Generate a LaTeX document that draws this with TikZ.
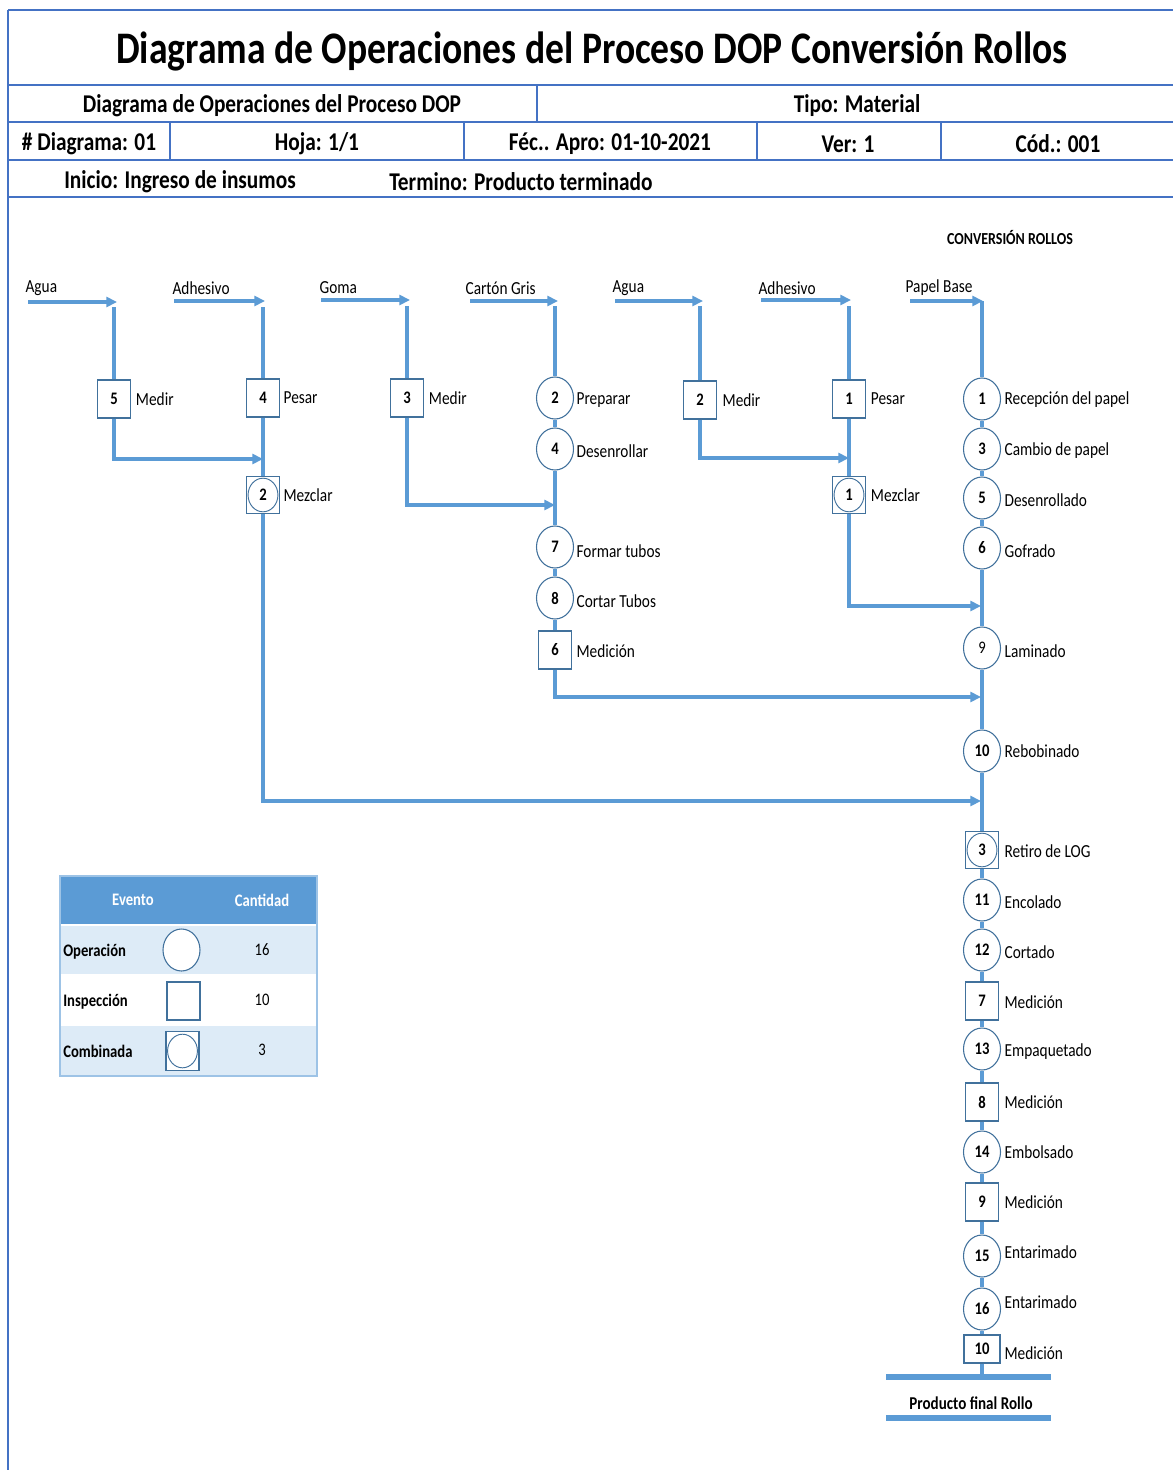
\documentclass[tikz,border=0pt]{standalone}
\usepackage{fontspec}
\setmainfont{Carlito}
\usetikzlibrary{shapes.geometric, arrows.meta, positioning}
\definecolor{hdrblue}{HTML}{4472C4}
\definecolor{flowblue}{HTML}{5B9BD5}
\definecolor{edgeblue}{HTML}{41719C}
\definecolor{rowfill}{HTML}{DDEBF7}
\definecolor{tabline}{HTML}{9DC3E6}
% text is set slightly taller than wide
\newcommand{\vs}[1]{\scalebox{1}[1.2]{#1}}

\begin{document}
\begin{tikzpicture}[x=0.75pt, y=-0.75pt,
  hline/.style={draw=hdrblue, line width=2.2pt},
  flow/.style={draw=flowblue, line width=2.6pt},
  flowarrow/.style={flow, -{Triangle[length=8pt,width=7.5pt]}},
  numfont/.style={font=\bfseries\fontsize{11}{13}\selectfont},
  opnode/.style={ellipse, draw=edgeblue, line width=0.8pt, fill=white,
    minimum width=27.75pt, minimum height=31.5pt, inner sep=0pt, numfont},
  insnode/.style={rectangle, draw=edgeblue, line width=0.8pt, fill=white,
    minimum width=24.75pt, minimum height=28.5pt, inner sep=0pt, numfont},
  combnode/.style={insnode, minimum height=27.75pt,
    path picture={\draw[edgeblue, line width=0.7pt]
      (path picture bounding box.center) ellipse (11.2pt and 12.6pt);}},
  lbl/.style={font=\fontsize{11.5}{13}\selectfont, inner sep=1pt, anchor=west},
  hdr/.style={font=\bfseries\fontsize{16}{18}\selectfont, inner sep=0pt, yshift=-1.5pt},
  tabhead/.style={font=\bfseries\fontsize{11}{13}\selectfont, text=white, inner sep=0pt},
  tabtext/.style={font=\bfseries\fontsize{11}{13}\selectfont, inner sep=0pt, anchor=west, yshift=-1pt},
  tabnum/.style={font=\fontsize{11}{13}\selectfont, inner sep=0pt},
]
\useasboundingbox (0,0) rectangle (1173,1470);
\fill[white] (0,0) rectangle (1173,1470);

% ---------- header block ----------
\draw[hline] (8,10) -- (1173,10);
\draw[hline] (8,85) -- (1173,85);
\draw[hline] (8,122) -- (1173,122);
\draw[hline] (8,160) -- (1173,160);
\draw[hline] (8,197) -- (1173,197);
\draw[hline] (537,85) -- (537,122);
\foreach \xx in {170,464,757,941} \draw[hline] (\xx,122) -- (\xx,160);
\draw[draw=hdrblue, line width=1.5pt] (8,10) -- (8,1470);

\node[font=\bfseries\fontsize{28.2}{32}\selectfont, inner sep=0pt, yshift=-2.5pt] (title) at (592,48)
  {\vs{Diagrama de Operaciones del Proceso DOP Conversión Rollos}};
\node[hdr] (hdrA) at (272,104) {\vs{Diagrama de Operaciones del Proceso DOP}};
\node[hdr] (hdrB) at (857,104) {\vs{Tipo: Material}};
\node[hdr] (hdrC) at (89,142) {\vs{\# Diagrama: 01}};
\node[hdr] (hdrD) at (317,142) {\vs{Hoja: 1/1}};
\node[hdr] (hdrE) at (610,142) {\vs{Féc.. Apro: 01-10-2021}};
\node[hdr] (hdrF) at (848,142) {\vs{Ver: 1}};
\node[hdr] (hdrG) at (1058,142) {\vs{Cód.: 001}};
\node[hdr, anchor=west] (hdrH) at (64,180) {\vs{Inicio: Ingreso de insumos}};
\node[hdr, anchor=west] (hdrI) at (389,180) {\vs{Termino: Producto terminado}};

\node[font=\bfseries\fontsize{10.5}{12}\selectfont, inner sep=0pt] (sect) at (1010,238)
  {\vs{CONVERSIÓN ROLLOS}};

% ---------- column A: Agua ----------
\node[lbl] (aName) at (24,288) {\vs{Agua}};
\coordinate (aIn) at (28,302); \coordinate (aTip) at (117,302);
\coordinate (aTop) at (114,307); \coordinate (aJoin) at (263,459);
\draw[flowarrow] (aIn) -- (aTip);
\node[insnode] (a5) at (114,399) {\vs{5}};
\node[lbl, right=2.5pt of a5] (a5t) {\vs{Medir}};
\draw[flow] (aTop) -- (a5);
\draw[flowarrow] (a5) |- (aJoin);

% ---------- column B: Adhesivo ----------
\node[lbl] (bName) at (171,288) {\vs{Adhesivo}};
\coordinate (bIn) at (174,301); \coordinate (bTip) at (265,301);
\coordinate (bTop) at (263,307); \coordinate (bJoin) at (981,801);
\draw[flowarrow] (bIn) -- (bTip);
\node[insnode] (b4) at (263,398) {\vs{4}};
\node[lbl, right=1.5pt of b4] (b4t) {\vs{Pesar}};
\node[combnode] (b2) at (263,495) {\vs{2}};
\node[lbl, right=1.5pt of b2] (b2t) {\vs{Mezclar}};
\draw[flow] (bTop) -- (b4);
\draw[flow] (b4) -- (b2);
\draw[flowarrow] (b2) |- (bJoin);

% ---------- column C: Goma ----------
\node[lbl] (cName) at (318,288) {\vs{Goma}};
\coordinate (cIn) at (321,300); \coordinate (cTip) at (410,300);
\coordinate (cTop) at (407,306); \coordinate (cJoin) at (555,505);
\draw[flowarrow] (cIn) -- (cTip);
\node[insnode] (c3) at (407,398) {\vs{3}};
\node[lbl, right=2.5pt of c3] (c3t) {\vs{Medir}};
\draw[flow] (cTop) -- (c3);
\draw[flowarrow] (c3) |- (cJoin);

% ---------- column D: Cartón Gris ----------
\node[lbl] (dName) at (464,288) {\vs{Cartón Gris}};
\coordinate (dIn) at (470,301); \coordinate (dTip) at (558,301);
\coordinate (dTop) at (555,306); \coordinate (dJoin) at (981,697);
\draw[flowarrow] (dIn) -- (dTip);
\node[opnode] (d2) at (555,398) {\vs{2}};
\node[opnode] (d4) at (555,449) {\vs{4}};
\node[opnode] (d7) at (555,547) {\vs{7}};
\node[opnode] (d8) at (555,598) {\vs{8}};
\node[insnode] (d6) at (555,650) {\vs{6}};
\node[lbl] (d2t) at (575,400) {\vs{Preparar}};
\node[lbl] (d4t) at (575,451) {\vs{Desenrollar}};
\node[lbl] (d7t) at (575,551) {\vs{Formar tubos}};
\node[lbl] (d8t) at (575,601) {\vs{Cortar Tubos}};
\node[lbl] (d6t) at (575,651) {\vs{Medición}};
\foreach \u/\v in {dTop/d2, d2/d4, d4/d7, d7/d8, d8/d6} \draw[flow] (\u) -- (\v);
\draw[flowarrow] (d6) |- (dJoin);

% ---------- column E: Agua ----------
\node[lbl] (eName) at (611,288) {\vs{Agua}};
\coordinate (eIn) at (615,301); \coordinate (eTip) at (703,301);
\coordinate (eTop) at (700,306); \coordinate (eJoin) at (849,458);
\draw[flowarrow] (eIn) -- (eTip);
\node[insnode] (e2) at (700,400) {\vs{2}};
\node[lbl, right=3pt of e2] (e2t) {\vs{Medir}};
\draw[flow] (eTop) -- (e2);
\draw[flowarrow] (e2) |- (eJoin);

% ---------- column F: Adhesivo ----------
\node[lbl] (fName) at (757,288) {\vs{Adhesivo}};
\coordinate (fIn) at (761,300); \coordinate (fTip) at (851,300);
\coordinate (fTop) at (849,306); \coordinate (fJoin) at (981,606);
\draw[flowarrow] (fIn) -- (fTip);
\node[insnode] (f1) at (849,399) {\vs{1}};
\node[lbl, right=2.5pt of f1] (f1t) {\vs{Pesar}};
\node[combnode] (f1m) at (849,495) {\vs{1}};
\node[lbl, right=2.5pt of f1m] (f1mt) {\vs{Mezclar}};
\draw[flow] (fTop) -- (f1);
\draw[flow] (f1) -- (f1m);
\draw[flowarrow] (f1m) |- (fJoin);

% ---------- column G: Papel Base (main line) ----------
\node[lbl] (gName) at (904,288) {\vs{Papel Base}};
\coordinate (gIn) at (910,301); \coordinate (gTip) at (983,301);
\coordinate (gTop) at (982,301); \coordinate (gEnd) at (982,1375);
\draw[flowarrow] (gIn) -- (gTip);
\node[opnode] (g1) at (982,399) {\vs{1}};
\node[opnode] (g3) at (982,449) {\vs{3}};
\node[opnode] (g5) at (982,498) {\vs{5}};
\node[opnode] (g6) at (982,548) {\vs{6}};
\node[opnode, font=\fontsize{11}{13}\selectfont] (g9) at (982,648) {\vs{9}};
\node[opnode] (g10) at (982,751) {\vs{10}};
\node[combnode] (gc3) at (982,850) {\vs{3}};
\node[opnode] (g11) at (982,900) {\vs{11}};
\node[opnode] (g12) at (982,950) {\vs{12}};
\node[insnode] (gi7) at (982,1001) {\vs{7}};
\node[opnode] (g13) at (982,1049) {\vs{13}};
\node[insnode] (gi8) at (982,1102) {\vs{8}};
\node[opnode] (g14) at (982,1152) {\vs{14}};
\node[insnode] (gi9) at (982,1202) {\vs{9}};
\node[opnode] (g15) at (982,1256) {\vs{15}};
\node[opnode] (g16) at (982,1309) {\vs{16}};
\node[insnode, minimum width=27pt, minimum height=21pt] (gi10) at (982,1349) {\vs{10}};

\node[lbl] (g1t) at (1003,400) {\vs{Recepción del papel}};
\node[lbl] (g3t) at (1003,451) {\vs{Cambio de papel}};
\node[lbl] (g5t) at (1003,500) {\vs{Desenrollado}};
\node[lbl] (g6t) at (1003,551) {\vs{Gofrado}};
\node[lbl] (g9t) at (1003,651) {\vs{Laminado}};
\node[lbl] (g10t) at (1003,751) {\vs{Rebobinado}};
\node[lbl] (gc3t) at (1003,851) {\vs{Retiro de LOG}};
\node[lbl] (g11t) at (1003,902) {\vs{Encolado}};
\node[lbl] (g12t) at (1003,952) {\vs{Cortado}};
\node[lbl] (gi7t) at (1003,1002) {\vs{Medición}};
\node[lbl] (g13t) at (1003,1052) {\vs{Empaquetado}};
\node[lbl] (gi8t) at (1003,1102) {\vs{Medición}};
\node[lbl] (g14t) at (1003,1152) {\vs{Embolsado}};
\node[lbl] (gi9t) at (1003,1202) {\vs{Medición}};
\node[lbl] (g15t) at (1003,1252) {\vs{Entarimado}};
\node[lbl] (g16t) at (1003,1302) {\vs{Entarimado}};
\node[lbl] (gi10t) at (1003,1353) {\vs{Medición}};

\foreach \u/\v in {gTop/g1, g1/g3, g3/g5, g5/g6, g6/g9, g9/g10, g10/gc3, gc3/g11,
  g11/g12, g12/gi7, gi7/g13, g13/gi8, gi8/g14, g14/gi9, gi9/g15, g15/g16,
  g16/gi10, gi10/gEnd}
  \draw[flow] (\u) -- (\v);

% final product bars
\draw[draw=flowblue, line width=3.8pt] (886,1377) -- (1051,1377);
\draw[draw=flowblue, line width=3.8pt] (886,1418) -- (1051,1418);
\node[font=\bfseries\fontsize{11.3}{13}\selectfont, inner sep=0pt] (prod) at (971,1403)
  {\vs{Producto final Rollo}};

% ---------- summary table ----------
\fill[flowblue] (60,876) rectangle (317,925);
\fill[rowfill] (60,925) rectangle (317,975);
\fill[white] (60,975) rectangle (317,1025);
\fill[rowfill] (60,1025) rectangle (317,1076);
\draw[white, line width=1.2pt] (61,925) -- (316,925);
\draw[white, line width=1.5pt] (61,975) -- (316,975);
\draw[white, line width=1.5pt] (61,1025) -- (316,1025);
\draw[tabline, line width=1.5pt] (60,876) rectangle (317,1076);

\node[tabhead] (thA) at (133,900) {\vs{Evento}};
\node[tabhead] (thB) at (262,900) {\vs{Cantidad}};
\node[tabtext] (tr1) at (63,950) {\vs{Operación}};
\node[tabtext] (tr2) at (63,1000) {\vs{Inspección}};
\node[tabtext] (tr3) at (63,1050) {\vs{Combinada}};
\node[opnode] (legOp) at (181.5,950) {};
\node[insnode] (legIns) at (183.5,1001) {};
\node[combnode, minimum height=29pt] (legComb) at (182.5,1051) {};
\node[tabnum] (tn1) at (262,950) {\vs{16}};
\node[tabnum] (tn2) at (262,1000) {\vs{10}};
\node[tabnum] (tn3) at (262,1050) {\vs{3}};
\end{tikzpicture}
\end{document}
